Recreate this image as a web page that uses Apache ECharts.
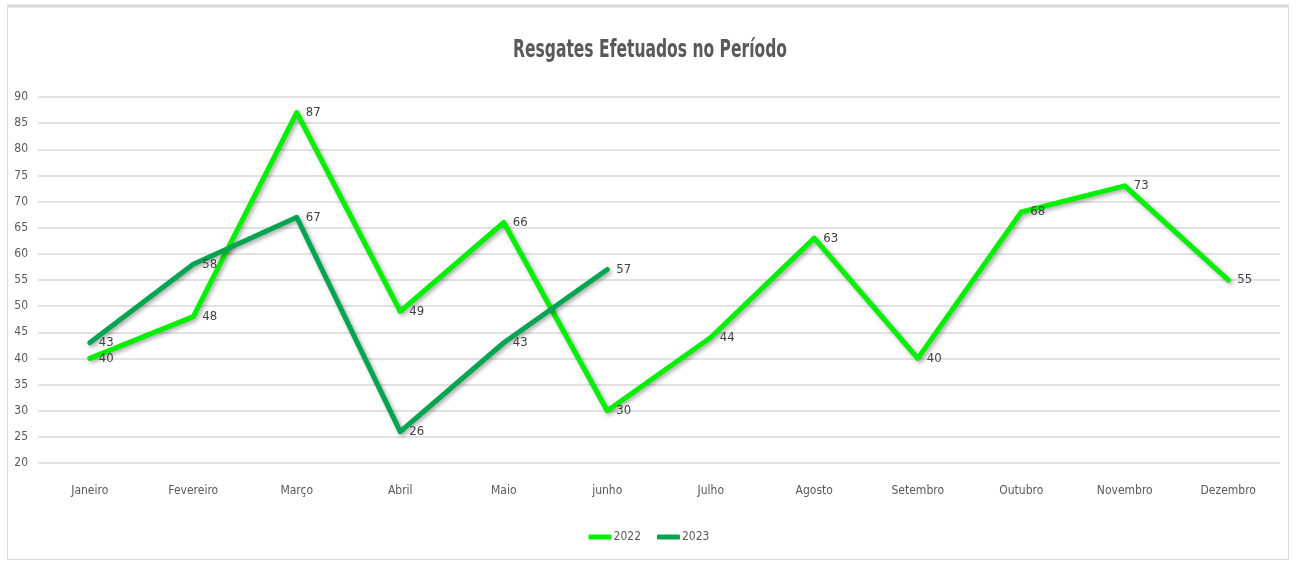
<!DOCTYPE html>
<html>
<head>
<meta charset="utf-8">
<script src="https://cdn.jsdelivr.net/npm/echarts@6/dist/echarts.min.js"></script>
<style>
html,body{margin:0;padding:0;background:#fff;}
#chart{width:1298px;height:563px;}
</style>
</head>
<body>
<div id="chart"></div>
<script>
const categories = ['Janeiro','Fevereiro','Março','Abril','Maio','junho','Julho','Agosto','Setembro','Outubro','Novembro','Dezembro'];
const series2022 = [40,48,87,49,66,30,44,63,40,68,73,55];
const series2023 = [43,58,67,26,43,57];
const seriesNames = ['2022','2023'];
const titleText = 'Resgates Efetuados no Período';

const FONT = "'Liberation Sans Narrow','DejaVu Sans Condensed',sans-serif";
const chart = echarts.init(document.getElementById('chart'));

function lineSeries(name, data, color) {
  return {
    name: name,
    type: 'line',
    data: data,
    symbol: 'circle',
    symbolSize: 4,
    showSymbol: true,
    lineStyle: {
      color: color, width: 5, cap: 'round', join: 'round',
      shadowColor: 'rgba(0,0,0,0.35)', shadowBlur: 4, shadowOffsetX: 2, shadowOffsetY: 2
    },
    itemStyle: { color: color, borderWidth: 0 },
    label: {
      show: true, position: 'right', distance: 7, offset: [0, 2],
      color: '#404040', fontFamily: FONT, fontSize: 13
    },
    labelLayout: { hideOverlap: false },
    emphasis: { disabled: true },
    animation: false
  };
}

chart.setOption({
  animation: false,
  graphic: [
    { type: 'rect', shape: { x: 7.5, y: 6.5, width: 1281, height: 553 },
      style: { fill: null, stroke: '#d9d9d9', lineWidth: 1 }, silent: true },
    { type: 'line', shape: { x1: 7, y1: 6, x2: 1289, y2: 6 },
      style: { stroke: '#d9d9d9', lineWidth: 3 }, silent: true },
    { type: 'text', x: 650, y: 51, scaleX: 0.72, silent: true,
      style: { text: titleText, fontFamily: FONT, fontSize: 24, fontWeight: 'bold',
               fill: '#595959', align: 'center', verticalAlign: 'middle' } }
  ],
  legend: {
    data: seriesNames,
    bottom: 15, left: 'center',
    icon: 'roundRect', itemWidth: 23, itemHeight: 5, itemGap: 16,
    textStyle: { fontFamily: FONT, fontSize: 12, color: '#595959', padding: [0,0,0,-3] }
  },
  grid: { left: 38, right: 18, top: 97, bottom: 100 },
  xAxis: {
    type: 'category', data: categories, boundaryGap: true,
    axisLine: { show: false }, axisTick: { show: false },
    axisLabel: { fontFamily: FONT, fontSize: 12, color: '#595959', margin: 22 }
  },
  yAxis: {
    type: 'value', min: 20, max: 90, interval: 5,
    axisLine: { show: false }, axisTick: { show: false },
    axisLabel: { fontFamily: FONT, fontSize: 12, color: '#595959', margin: 10 },
    splitLine: { lineStyle: { color: '#d9d9d9', width: 1.5 } }
  },
  series: [
    lineSeries(seriesNames[0], series2022, '#00f000'),
    lineSeries(seriesNames[1], series2023, '#00a550')
  ]
});
</script>
</body>
</html>
